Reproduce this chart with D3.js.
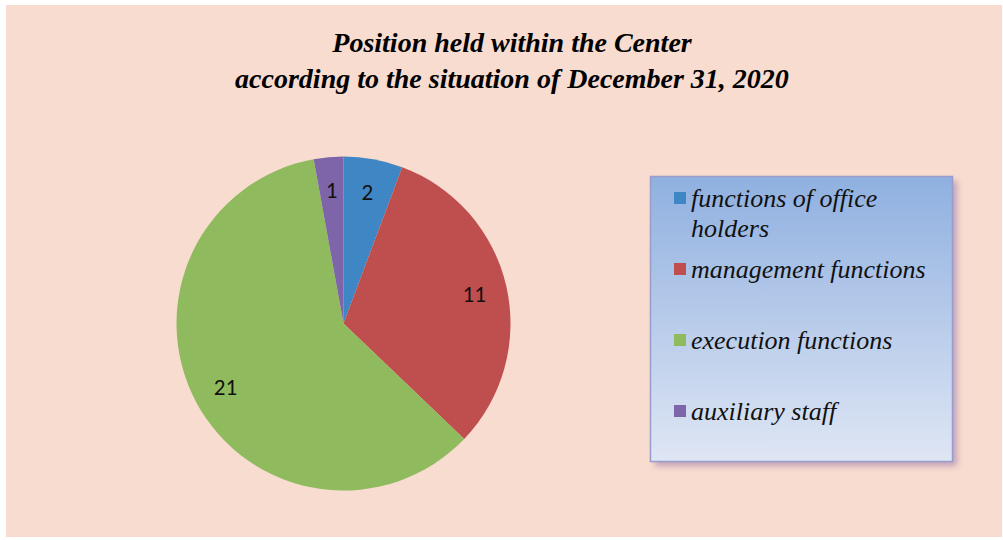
<!DOCTYPE html>
<html>
<head>
<meta charset="utf-8">
<script src="https://cdn.jsdelivr.net/npm/d3@7"></script>
<style>
  body { margin: 0; background: #ffffff; }
  svg { display: block; }
  svg text.serif { font-family: "Liberation Serif", Tinos, serif !important; font-style: italic !important; }
  svg text.title { font-weight: bold !important; }
  svg text.slice-label { font-family: Carlito, "Liberation Sans", sans-serif !important; }
</style>
</head>
<body>
<div id="chart"></div>
<script>
// chart data
var categories = ["functions of office holders", "management functions", "execution functions", "auxiliary staff"];
var values = [2, 11, 21, 1];
var titleLines = ["Position held within the Center", "according to the situation of December 31, 2020"];
var legendLines = [["functions of office", "holders"], ["management functions"], ["execution functions"], ["auxiliary staff"]];

var svgWidth = 1003;
var svgHeight = 540;

var colors = d3.scaleOrdinal()
  .domain(categories)
  .range(["#3f86c4", "#bf4e4e", "#8fbb5e", "#7e64a8"]);

var svg = d3.select("#chart")
  .append("svg")
  .attr("width", svgWidth)
  .attr("height", svgHeight);

var defs = svg.append("defs");

// legend gradient
var grad = defs.append("linearGradient")
  .attr("id", "legendGrad")
  .attr("x1", 0).attr("y1", 0).attr("x2", 0).attr("y2", 1);
grad.append("stop").attr("offset", "0%").attr("stop-color", "#8fb0e0");
grad.append("stop").attr("offset", "100%").attr("stop-color", "#dfe6f4");

// blur for the legend shadow
defs.append("filter")
  .attr("id", "blur")
  .attr("x", "-10%").attr("y", "-10%")
  .attr("width", "120%").attr("height", "120%")
  .append("feGaussianBlur").attr("stdDeviation", 3);

// background
svg.append("rect")
  .attr("x", 6).attr("y", 5)
  .attr("width", 996).attr("height", 532)
  .attr("fill", "#f7dccf");

// title
var title = svg.append("text")
  .attr("class", "serif title")
  .attr("x", 512)
  .attr("y", 52)
  .attr("text-anchor", "middle")
  .attr("font-size", 28)
  .attr("fill", "#000");

title.selectAll("tspan")
  .data(titleLines)
  .enter()
  .append("tspan")
  .attr("x", 512)
  .attr("dy", (d, i) => i === 0 ? 0 : 36)
  .text(d => d);

// pie
var radius = 167;
var pieGroup = svg.append("g")
  .attr("transform", "translate(343.5, 323.5)");

var pie = d3.pie().sort(null).value(d => d);
var arcs = pie(values);

var arc = d3.arc().innerRadius(0).outerRadius(radius);
var labelArc = d3.arc().innerRadius(134).outerRadius(134);

pieGroup.selectAll("path")
  .data(arcs)
  .enter()
  .append("path")
  .attr("d", arc)
  .attr("fill", (d, i) => colors(categories[i]));

pieGroup.selectAll("text")
  .data(arcs)
  .enter()
  .append("text")
  .attr("class", "slice-label")
  .attr("transform", d => `translate(${labelArc.centroid(d)})`)
  .attr("text-anchor", "middle")
  .attr("dy", "0.35em")
  .attr("font-size", 23)
  .attr("fill", "#111")
  .text(d => d.data);

// legend
var legend = svg.append("g");
legend.append("rect")
  .attr("x", 655).attr("y", 181)
  .attr("width", 302).attr("height", 285)
  .attr("fill", "#a888b0")
  .attr("opacity", 0.7)
  .attr("filter", "url(#blur)");

legend.append("rect")
  .attr("x", 650.5).attr("y", 176.5)
  .attr("width", 302).attr("height", 285)
  .attr("fill", "url(#legendGrad)")
  .attr("stroke", "#9a9ccc")
  .attr("stroke-width", 1.5);

var legendY = d3.scalePoint()
  .domain(categories)
  .range([198, 411]);

var items = legend.selectAll("g.item")
  .data(categories)
  .enter()
  .append("g")
  .attr("class", "item")
  .attr("transform", d => `translate(0, ${legendY(d)})`);

items.append("rect")
  .attr("x", 674).attr("y", -6)
  .attr("width", 12).attr("height", 12)
  .attr("fill", d => colors(d));

var labels = items.append("text")
  .attr("class", "serif")
  .attr("x", 691)
  .attr("y", 9)
  .attr("font-size", 26)
  .attr("fill", "#111");

labels.selectAll("tspan")
  .data((d, i) => legendLines[i])
  .enter()
  .append("tspan")
  .attr("x", 691)
  .attr("dy", (d, i) => i === 0 ? 0 : 30)
  .text(d => d);
</script>
</body>
</html>
